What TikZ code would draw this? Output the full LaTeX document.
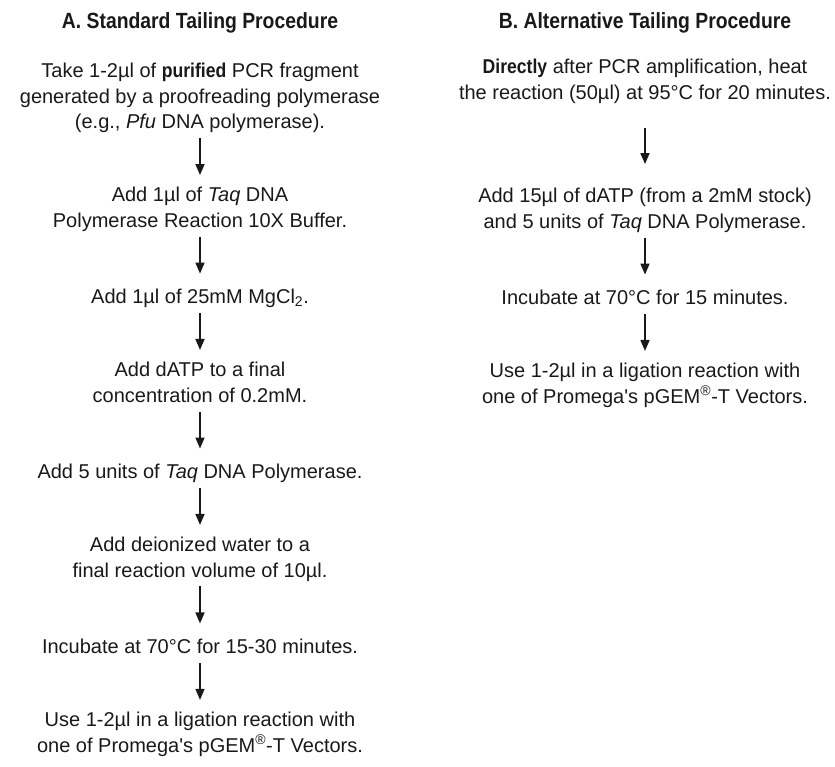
\documentclass[tikz,border=0pt]{standalone}
\usepackage{fontspec}
\setmainfont{Liberation Sans}
\newfontfamily\condbold{Liberation Sans Bold}[FakeStretch=0.88]
\usetikzlibrary{arrows.meta,positioning}
\definecolor{textblack}{RGB}{25,25,25}

\begin{document}
\begin{tikzpicture}[x=1pt, y=1pt, node distance=50.5pt,
  stepbox/.style={inner sep=0pt, align=center, text=textblack, font=\fontsize{20}{25.5}\selectfont, execute at begin node=\strut, execute at end node=\strut},
  headbox/.style={inner sep=0pt, text=textblack, font=\condbold\fontsize{22}{26}\selectfont},
  flowarrow/.style={-{Triangle[length=11pt, width=9pt]}, line width=1.6pt, draw=textblack, shorten <=1.5pt, shorten >=12pt}]
\useasboundingbox (0,0) rectangle (835,-767);

% A: standard tailing
\node[headbox] (headA) at (200,-23) {A. Standard Tailing Procedure};
\node[stepbox, anchor=north] (a1) at (200,-63) {Take 1-2µl of {\condbold purified} PCR fragment\\generated by a proofreading polymerase\\(e.g., \textit{Pfu} DNA polymerase).};
\node[stepbox, below=of a1] (a2) {Add 1µl of \textit{Taq} DNA\\Polymerase Reaction 10X Buffer.};
\node[stepbox, below=of a2] (a3) {Add 1µl of 25mM MgCl\textsubscript{2}.};
\node[stepbox, below=of a3] (a4) {Add dATP to a final\\concentration of 0.2mM.};
\node[stepbox, below=of a4] (a5) {Add 5 units of \textit{Taq} DNA Polymerase.};
\node[stepbox, below=of a5] (a6) {Add deionized water to a\\final reaction volume of 10µl.};
\node[stepbox, below=of a6] (a7) {Incubate at 70°C for 15-30 minutes.};
\node[stepbox, below=of a7] (a8) {Use 1-2µl in a ligation reaction with\\one of Promega\textquotesingle s pGEM\textsuperscript{®}-T Vectors.};
\draw[flowarrow] (a1) -- (a2);
\draw[flowarrow] (a2) -- (a3);
\draw[flowarrow] (a3) -- (a4);
\draw[flowarrow] (a4) -- (a5);
\draw[flowarrow] (a5) -- (a6);
\draw[flowarrow] (a6) -- (a7);
\draw[flowarrow] (a7) -- (a8);

% B: alternative tailing
\node[headbox] (headB) at (645,-23) {B. Alternative Tailing Procedure};
\node[stepbox, anchor=north] (b1) at (645,-59) {{\condbold Directly} after PCR amplification, heat\\the reaction (50µl) at 95°C for 20 minutes.};
\node[stepbox, below=81pt of b1] (b2) {Add 15µl of dATP (from a 2mM stock)\\and 5 units of \textit{Taq} DNA Polymerase.};
\node[stepbox, below=of b2] (b3) {Incubate at 70°C for 15 minutes.};
\node[stepbox, below=of b3] (b4) {Use 1-2µl in a ligation reaction with\\one of Promega\textquotesingle s pGEM\textsuperscript{®}-T Vectors.};
\draw[flowarrow, shorten <=21pt, shorten >=24pt] (b1) -- (b2);
\draw[flowarrow] (b2) -- (b3);
\draw[flowarrow] (b3) -- (b4);
\end{tikzpicture}
\end{document}
